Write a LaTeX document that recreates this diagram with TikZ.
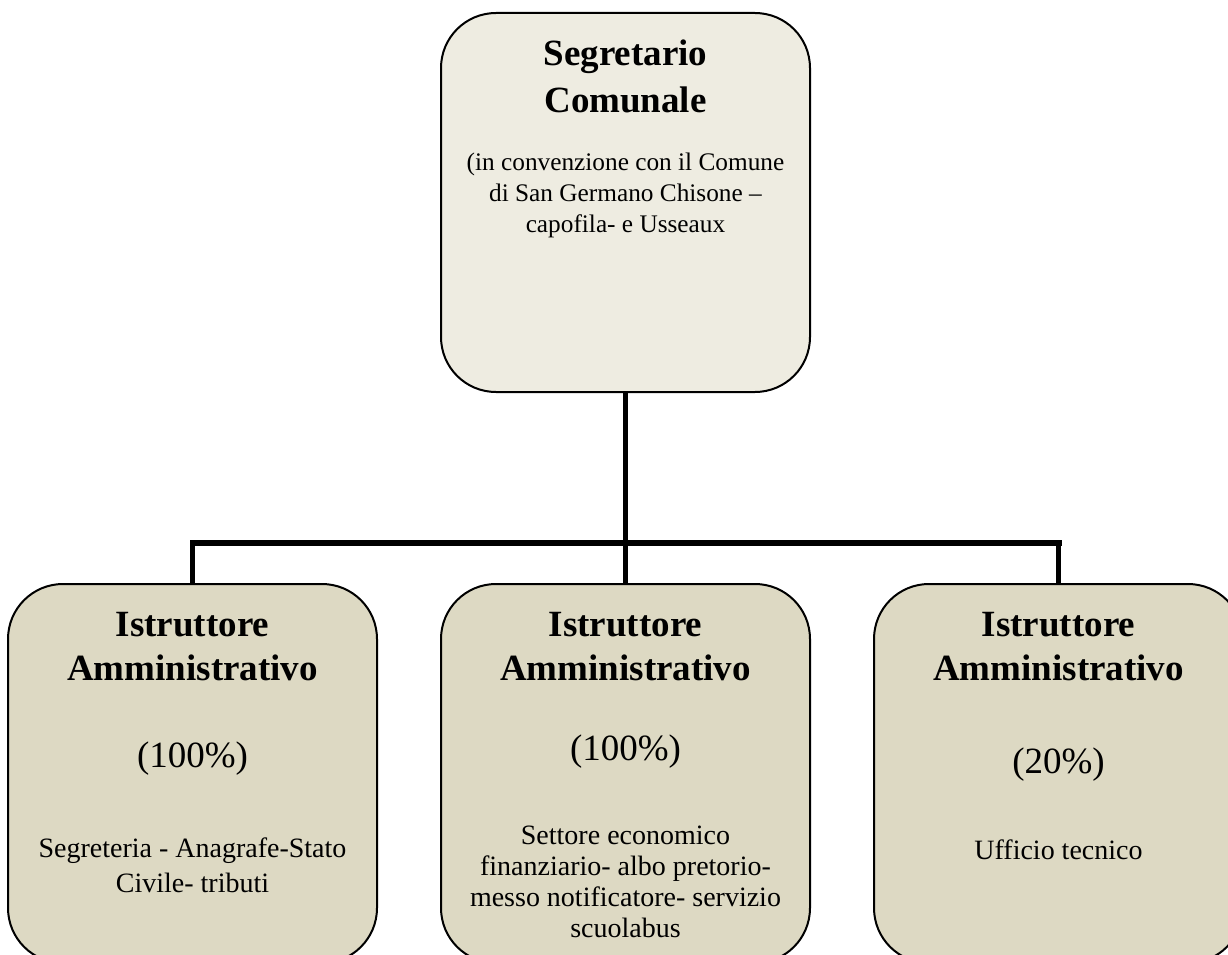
\documentclass[tikz,border=0pt]{standalone}
\usepackage{fontspec}
\setmainfont{Liberation Serif}
\usepackage{tikz}
\usetikzlibrary{positioning}
\definecolor{headfill}{HTML}{EEECE1}
\definecolor{stafffill}{HTML}{DDD9C3}
\newcommand{\boxtext}[1]{\parbox[c][350pt][t]{352pt}{\centering\rule{0pt}{37.5pt}#1}}
\newcommand{\Title}[2]{{\fontsize{37}{#1}\selectfont\bfseries #2\par}}
\newcommand{\Pct}[1]{{\fontsize{37}{45}\selectfont #1\par}}
\newcommand{\Note}[3]{{\fontsize{#1}{#2}\selectfont #3\par}}

\begin{document}
\begin{tikzpicture}[x=1pt, y=-1pt, node distance=62pt,
    headbox/.style={draw, line width=2pt, fill=headfill, rounded corners=55pt,
      inner sep=0pt, minimum width=369pt, minimum height=379pt},
    staffbox/.style={headbox, fill=stafffill},
    trunk/.style={line width=5.5pt},
    bus/.style={line width=6pt, line cap=rect},
    branch/.style={line width=4.5pt}]
  \useasboundingbox (0,0) rectangle (1228,955);
  \clip (0,0) rectangle (1228,955);

  \node[headbox] (seg) at (625.5,202.5) {\boxtext{%
      \Title{47}{Segretario\\ Comunale}
      \vspace{27pt}\Note{25.3}{31}{(in convenzione con il Comune\\ di San Germano Chisone –\\ capofila- e Usseaux}}};

  \node[staffbox, below = 190pt of seg] (mid) {\boxtext{%
      \Title{44}{Istruttore\\ Amministrativo}
      \vspace{35pt}\Pct{(100\%)}
      \vspace{53pt}\Note{28}{31}{Settore economico\\ finanziario- albo pretorio-\\ messo notificatore- servizio\\ scuolabus}}};
  \node[staffbox, left = of mid] (left) {\boxtext{%
      \Title{44}{Istruttore\\ Amministrativo}
      \vspace{42pt}\Pct{(100\%)}
      \vspace{55pt}\Note{28}{35}{Segreteria - Anagrafe-Stato\\ Civile- tributi}}};
  \node[staffbox, right = of mid] (right) {\boxtext{%
      \Title{44}{Istruttore\\ Amministrativo}
      \vspace{48pt}\Pct{(20\%)}
      \vspace{55pt}\Note{28}{31}{Ufficio tecnico}}};

  % connectors
  \coordinate (rail) at (0,543);
  \draw[trunk] (seg.south) -- (seg.south |- rail);
  \draw[branch] (left.north) -- (left.north |- rail);
  \draw[branch] (mid.north) -- (mid.north |- rail);
  \draw[branch] (right.north) -- (right.north |- rail);
  \draw[bus] (left.north |- rail) -- (right.north |- rail);
\end{tikzpicture}
\end{document}
